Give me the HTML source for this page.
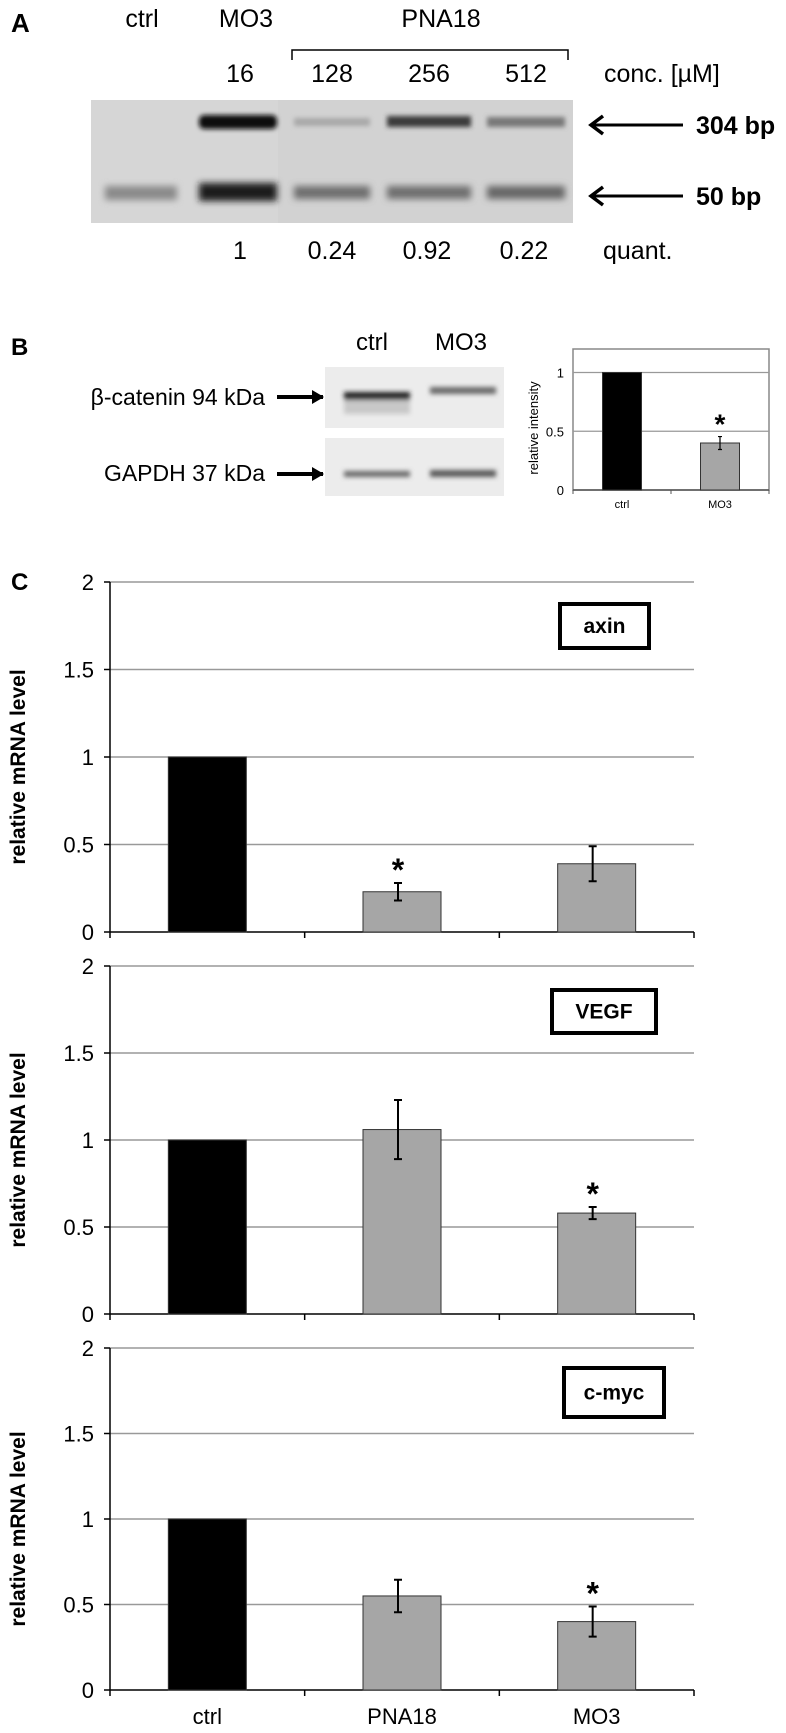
<!DOCTYPE html>
<html><head><meta charset="utf-8">
<style>
html,body{margin:0;padding:0;background:#fff;}
svg{display:block;font-family:"Liberation Sans",Arial,sans-serif;}
.nar{font-family:"Liberation Sans Narrow","Liberation Sans",sans-serif;}
</style></head>
<body>
<svg id="fig" width="786" height="1733" viewBox="0 0 786 1733" xmlns="http://www.w3.org/2000/svg">
<defs>
<filter id="blur2" x="-20%" y="-50%" width="140%" height="200%"><feGaussianBlur stdDeviation="2.5"/></filter>
<filter id="blur3" x="-20%" y="-80%" width="140%" height="260%"><feGaussianBlur stdDeviation="3.5"/></filter>
<marker id="ar" markerWidth="12" markerHeight="14" refX="11" refY="7" orient="auto" markerUnits="userSpaceOnUse"><path d="M0,0 L12,7 L0,14 Z" fill="#000"/></marker>
</defs>

<!-- Panel A -->
<g>
<text x="11" y="32" font-size="26" font-weight="bold">A</text>
<g class="nar" font-size="25" text-anchor="middle">
<text x="142" y="27">ctrl</text>
<text x="246" y="27">MO3</text>
<text x="441" y="27">PNA18</text>
<text x="240" y="82">16</text>
<text x="332" y="82">128</text>
<text x="429" y="82">256</text>
<text x="526" y="82">512</text>
<text x="604" y="82" text-anchor="start">conc. [µM]</text>
<text x="240" y="259">1</text>
<text x="332" y="259">0.24</text>
<text x="427" y="259">0.92</text>
<text x="524" y="259">0.22</text>
<text x="603" y="259" text-anchor="start">quant.</text>
</g>
<path d="M292,60 L292,50 L568,50 L568,60" fill="none" stroke="#000" stroke-width="1.5"/>
<g>
<rect x="91" y="100" width="482" height="123" fill="#d2d2d2"/>
<rect x="91" y="100" width="187" height="123" fill="#d6d6d6"/>
<g filter="url(#blur2)">
<rect x="199" y="115" width="78" height="14" rx="5" fill="#111"/>
<rect x="294" y="118" width="76" height="8" fill="#a8a8a8"/>
<rect x="387" y="116" width="84" height="11" fill="#3a3a3a"/>
<rect x="487" y="117" width="78" height="10" fill="#787878"/>
</g>
<g filter="url(#blur3)">
<rect x="105" y="186" width="72" height="14" fill="#8a8a8a"/>
<rect x="199" y="183" width="78" height="18" fill="#1e1e1e"/>
<rect x="294" y="186" width="76" height="13" fill="#6e6e6e"/>
<rect x="387" y="186" width="84" height="13" fill="#6e6e6e"/>
<rect x="487" y="186" width="78" height="13" fill="#666"/>
</g>
</g>
<g>
<line x1="683" y1="125" x2="592" y2="125" stroke="#000" stroke-width="3"/>
<path d="M603,116 L591,125 L603,134" fill="none" stroke="#000" stroke-width="3.5"/>
</g>
<g>
<line x1="683" y1="196" x2="592" y2="196" stroke="#000" stroke-width="3"/>
<path d="M603,187 L591,196 L603,205" fill="none" stroke="#000" stroke-width="3.5"/>
</g>
<g class="nar" font-size="25" font-weight="bold">
<text x="696" y="134">304 bp</text>
<text x="696" y="205">50 bp</text>
</g>
</g>

<!-- Panel B -->
<g>
<text x="11" y="355" font-size="24" font-weight="bold">B</text>
<g class="nar" font-size="24" text-anchor="middle">
<text x="372" y="350">ctrl</text>
<text x="461" y="350">MO3</text>
</g>
<g class="nar" font-size="23" text-anchor="end">
<text x="265" y="405">β-catenin 94 kDa</text>
<text x="265" y="481">GAPDH 37 kDa</text>
</g>
<line x1="277" y1="397" x2="323" y2="397" stroke="#000" stroke-width="4" marker-end="url(#ar)"/>
<line x1="277" y1="474" x2="323" y2="474" stroke="#000" stroke-width="4" marker-end="url(#ar)"/>
<g>
<rect x="325" y="367" width="179" height="61" fill="#ececec"/>
<rect x="325" y="438" width="179" height="58" fill="#ececec"/>
<g filter="url(#blur2)">
<rect x="344" y="392" width="66" height="9" fill="#222"/>
<rect x="344" y="400" width="66" height="14" fill="#c8c8c8"/>
<rect x="430" y="387" width="66" height="7" fill="#6a6a6a"/>
<rect x="344" y="471" width="66" height="6" fill="#6a6a6a"/>
<rect x="430" y="470" width="66" height="7" fill="#5a5a5a"/>
</g>
</g>
<g id="chartB"></g>
</g>

<!-- Panel C -->
<text x="11" y="590" font-size="24" font-weight="bold">C</text>
<g id="chartC"></g>
</svg>

<script>
const NS = "http://www.w3.org/2000/svg";
function mk(parent, tag, attrs, text) {
  const e = document.createElementNS(NS, tag);
  for (const k in attrs) e.setAttribute(k, attrs[k]);
  if (text !== undefined) e.textContent = text;
  parent.appendChild(e);
  return e;
}

/* ---- Panel B chart data ---- */
const bCategories = ["ctrl", "MO3"];
const bValues = [1, 0.40];
const bErrors = [0, 0.055];
const bSignificant = [false, true];
const bTicks = [0, 0.5, 1];

/* ---- Panel C chart data ---- */
const cCategories = ["ctrl", "PNA18", "MO3"];
const cGenes = ["axin", "VEGF", "c-myc"];
const axinValues = [1, 0.23, 0.39];
const axinErrors = [0, 0.05, 0.10];
const axinSignificant = [false, true, false];
const vegfValues = [1, 1.06, 0.58];
const vegfErrors = [0, 0.17, 0.035];
const vegfSignificant = [false, false, true];
const cmycValues = [1, 0.55, 0.40];
const cmycErrors = [0, 0.095, 0.088];
const cmycSignificant = [false, false, true];
const cTickLabels = ["0", "0.5", "1", "1.5", "2"];
const cTickValues = [0, 0.5, 1, 1.5, 2];

/* ---- draw panel B chart ---- */
(function () {
  const g = document.getElementById("chartB");
  const L = 573, R = 769, T = 349, B = 490, ymax = 1.2;
  const y = v => B - v / ymax * (B - T);
  const band = (R - L) / bCategories.length;
  const x = i => L + band * (i + 0.5);
  const frame = mk(g, "rect", {x: L, y: T, width: R - L, height: B - T, fill: "none", stroke: "#888", "stroke-width": 1.5});
  
  
  bTicks.forEach(t => {
    if (t > 0) {
      const gl = mk(g, "line", {x1: L, x2: R, y1: y(t), y2: y(t), stroke: "#999", "stroke-width": 1.2});
      
      
    }
    const tl = mk(g, "text", {x: 564, y: y(t) + 5, "font-size": 13, "text-anchor": "end"}, String(t));
    
    
  });
  const ax = mk(g, "line", {x1: L, x2: R, y1: B, y2: B, stroke: "#555", "stroke-width": 1.5});
  
  
  for (let i = 0; i <= bCategories.length; i++) {
    const tk = mk(g, "line", {x1: L + band * i, x2: L + band * i, y1: B, y2: B + 4, stroke: "#555"});
    
    
  }
  const bw = 39;
  bCategories.forEach((c, i) => {
    const bar = mk(g, "rect", {x: x(i) - bw / 2, y: y(bValues[i]), width: bw, height: B - y(bValues[i]), fill: i === 0 ? "#000" : "#a6a6a6", stroke: "#333", "stroke-width": 1});
    
    
    if (bErrors[i] > 0) {
      const e1 = y(bValues[i] + bErrors[i]), e2 = y(bValues[i] - bErrors[i]);
      const eb = mk(g, "path", {d: `M${x(i)},${e1}V${e2}M${x(i)-2},${e1}H${x(i)+2}M${x(i)-2},${e2}H${x(i)+2}`, stroke: "#000", "stroke-width": 1.2, fill: "none"});
      
      
    }
    if (bSignificant[i]) {
      const st = mk(g, "text", {x: x(i), y: y(bValues[i] + bErrors[i]) - 3, "font-size": 28, "font-weight": "bold", "text-anchor": "middle"}, "*");
      
      
    }
    const xl = mk(g, "text", {x: x(i), y: 508, "font-size": 11, "text-anchor": "middle"}, c);
    
    
  });
  const yt = mk(g, "text", {x: 0, y: 0, "font-size": 13, "text-anchor": "middle", transform: "translate(538,428) rotate(-90)"}, "relative intensity");
  
  
})();

/* ---- draw panel C charts ---- */
(function () {
  const root = document.getElementById("chartC");
  const L = 110, R = 694;
  const specs = [
    {gene: cGenes[0], vals: axinValues, errs: axinErrors, sig: axinSignificant, top: 582, bottom: 932, box: [558, 602, 93, 48]},
    {gene: cGenes[1], vals: vegfValues, errs: vegfErrors, sig: vegfSignificant, top: 966, bottom: 1314, box: [550, 988, 108, 47]},
    {gene: cGenes[2], vals: cmycValues, errs: cmycErrors, sig: cmycSignificant, top: 1348, bottom: 1690, box: [562, 1366, 104, 53]}
  ];
  const band = (R - L) / cCategories.length;
  const xc = i => L + band * (i + 0.5);
  const bw = 78;
  specs.forEach((s, ci) => {
    const g = mk(root, "g", {});
    
    
    const ymax = 2;
    const y = v => s.bottom - v / ymax * (s.bottom - s.top);
    cTickValues.forEach((t, ti) => {
      if (t > 0) {
        const gl = mk(g, "line", {x1: L, x2: R, y1: y(t), y2: y(t), stroke: "#999", "stroke-width": 1.5});
        
        
      }
      const tk = mk(g, "line", {x1: L - 6, x2: L, y1: y(t), y2: y(t), stroke: "#000", "stroke-width": 1.5});
      
      
      const tl = mk(g, "text", {x: 94, y: y(t) + 8, "font-size": 22, "text-anchor": "end"}, cTickLabels[ti]);
      
      
    });
    const ya = mk(g, "line", {x1: L, x2: L, y1: s.top, y2: s.bottom, stroke: "#000", "stroke-width": 1.5});
    
    
    const xa = mk(g, "line", {x1: L, x2: R, y1: s.bottom, y2: s.bottom, stroke: "#000", "stroke-width": 1.5});
    
    
    for (let i = 0; i <= cCategories.length; i++) {
      const tk = mk(g, "line", {x1: L + band * i, x2: L + band * i, y1: s.bottom, y2: s.bottom + 6, stroke: "#000", "stroke-width": 1.5});
      
      
    }
    cCategories.forEach((c, i) => {
      const v = s.vals[i];
      const bar = mk(g, "rect", {x: xc(i) - bw / 2, y: y(v), width: bw, height: s.bottom - y(v), fill: i === 0 ? "#000" : "#a6a6a6", stroke: "#333", "stroke-width": 1});
      
      
      if (s.errs[i] > 0) {
        const e1 = y(v + s.errs[i]), e2 = y(v - s.errs[i]), cx = xc(i) - 4;
        const eb = mk(g, "path", {d: `M${cx},${e1}V${e2}M${cx-4},${e1}H${cx+4}M${cx-4},${e2}H${cx+4}`, stroke: "#000", "stroke-width": 2, fill: "none"});
        
        
      }
      if (s.sig[i]) {
        const st = mk(g, "text", {x: xc(i) - 4, y: y(v + s.errs[i]) - 2, "font-size": 32, "font-weight": "bold", "text-anchor": "middle"}, "*");
        
        
      }
    });
    const b = s.box;
    const bx = mk(g, "rect", {x: b[0] + 2, y: b[1] + 2, width: b[2] - 4, height: b[3] - 4, fill: "#fff", stroke: "#000", "stroke-width": 4});
    
    
    const bt = mk(g, "text", {x: b[0] + b[2] / 2, y: b[1] + b[3] / 2 + 7, "font-size": 21, "font-weight": "bold", "text-anchor": "middle"}, s.gene);
    
    
    const yt = mk(g, "text", {x: 0, y: 0, "font-size": 21, "font-weight": "bold", "text-anchor": "middle", transform: `translate(25,${(s.top + s.bottom) / 2 + 10}) rotate(-90)`}, "relative mRNA level");
    
    
    if (ci === specs.length - 1) {
      cCategories.forEach((c, i) => {
        const xl = mk(g, "text", {x: xc(i), y: s.bottom + 34, "font-size": 22, "text-anchor": "middle"}, c);
        
        
      });
    }
  });
})();
</script>
</body></html>
